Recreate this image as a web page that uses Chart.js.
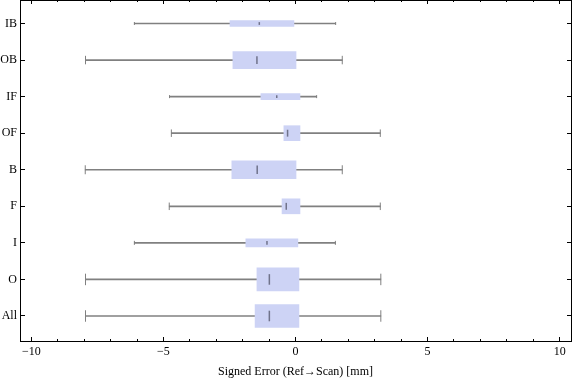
<!DOCTYPE html>
<html>
<head>
<meta charset="utf-8">
<script src="https://cdn.jsdelivr.net/npm/chart.js@4"></script>
<style>
html, body { margin: 0; padding: 0; background: #fff; }
#wrap { width: 576px; height: 381px; }
</style>
</head>
<body>
<div id="wrap"><canvas id="box1"></canvas></div>
<script>
// groups, top to bottom
var groups = ['IB', 'OB', 'IF', 'OF', 'B', 'F', 'I', 'O', 'All'];
var whiskerLow = [-6.10, -7.95, -4.77, -4.70, -7.96, -4.78, -6.10, -7.95, -7.95];
var quart1 = [-2.48, -2.37, -1.31, -0.44, -2.41, -0.51, -1.88, -1.46, -1.53];
var median = [-1.37, -1.46, -0.71, -0.30, -1.45, -0.35, -1.08, -0.99, -0.99];
var quart3 = [-0.06, 0.02, 0.17, 0.17, 0.02, 0.17, 0.09, 0.13, 0.13];
var whiskerHigh = [1.52, 1.77, 0.80, 3.21, 1.77, 3.21, 1.51, 3.23, 3.23];
var xTicks = [-10, -5, 0, 5, 10];

// box heights in px (box width in the original plot)
var boxSize = [6, 17, 6, 15, 18, 15, 8, 23, 23];

var xMin = -10.43, xMax = 10.43;
var yMin = -0.643, yMax = 8.684;

Chart.defaults.font.family = "'Liberation Serif', serif";
Chart.defaults.font.size = 12;
Chart.defaults.color = '#000';

var datasets = [];

// whiskers
datasets.push({
    type: 'bar',
    data: groups.map(function (g, i) { return { x: [whiskerLow[i], whiskerHigh[i]], y: i }; }),
    backgroundColor: '#808080',
    borderWidth: 0,
    barThickness: 1,
    grouped: false,
    order: 3
});

// boxes, one dataset each so every box gets its own height
groups.forEach(function (g, i) {
    datasets.push({
        type: 'bar',
        data: [{ x: [quart1[i], quart3[i]], y: i }],
        backgroundColor: '#cdd3f5',
        borderWidth: 0,
        barThickness: boxSize[i],
        grouped: false,
        order: 2
    });
});

// whisker caps
var capPts = [], capR = [];
groups.forEach(function (g, i) {
    capPts.push({ x: whiskerLow[i], y: i });
    capPts.push({ x: whiskerHigh[i], y: i });
    capR.push(boxSize[i] / 4, boxSize[i] / 4);
});
datasets.push({
    type: 'scatter',
    data: capPts,
    pointStyle: 'line',
    pointRotation: 90,
    pointRadius: capR,
    pointBorderColor: '#808080',
    pointBorderWidth: 1,
    order: 1
});

// medians
datasets.push({
    type: 'scatter',
    data: groups.map(function (g, i) { return { x: median[i], y: i }; }),
    pointStyle: 'line',
    pointRotation: 90,
    pointRadius: boxSize.map(function (s) { return s * 0.23; }),
    pointBorderColor: 'rgba(95,98,120,0.85)',
    pointBorderWidth: 1.5,
    order: 0
});

// fixed axis sizes, and no extra label padding around the plot frame
function flat(h) { return function (s) { s.height = h; s.paddingLeft = 0; s.paddingRight = 0; }; }
function thin(w) { return function (s) { s.width = w; s.paddingTop = 0; s.paddingBottom = 0; }; }

var box1 = new Chart(document.getElementById('box1'), {
    type: 'bar',
    data: { datasets: datasets },
    options: {
        indexAxis: 'y',
        responsive: true,
        maintainAspectRatio: false,
        animation: false,
        events: [],
        layout: { autoPadding: false, padding: { top: 0, right: 5, bottom: 0, left: 0 } },
        plugins: { legend: { display: false }, tooltip: { enabled: false } },
        scales: {
            x: {
                type: 'linear', position: 'bottom', min: xMin, max: xMax, weight: 1,
                afterBuildTicks: function (s) { s.ticks = xTicks.map(function (v) { return { value: v }; }); },
                ticks: {
                    padding: 8,
                    callback: function (v) { return v < 0 ? '\u2212' + Math.abs(v) : '' + v; }
                },
                grid: { drawOnChartArea: false, tickLength: -4, tickColor: '#000' },
                border: { color: '#000' },
                title: { display: true, text: 'Signed Error (Ref\u2192Scan) [mm]', padding: { top: 0, bottom: 2 } },
                afterFit: flat(40)
            },
            xm: {
                type: 'linear', position: 'bottom', min: xMin, max: xMax, weight: 0,
                ticks: { display: false, stepSize: 1, includeBounds: false },
                grid: { drawOnChartArea: false, tickLength: -2, tickColor: '#000' },
                border: { display: false },
                afterFit: flat(0)
            },
            xt: {
                type: 'linear', position: 'top', min: xMin, max: xMax, weight: 0,
                afterBuildTicks: function (s) { s.ticks = xTicks.map(function (v) { return { value: v }; }); },
                ticks: { display: false },
                grid: { drawOnChartArea: false, tickLength: -4, tickColor: '#000' },
                border: { color: '#000' },
                afterFit: flat(0)
            },
            xtm: {
                type: 'linear', position: 'top', min: xMin, max: xMax, weight: 1,
                ticks: { display: false, stepSize: 1, includeBounds: false },
                grid: { drawOnChartArea: false, tickLength: -2, tickColor: '#000' },
                border: { display: false },
                afterFit: flat(0)
            },
            y: {
                type: 'linear', position: 'left', reverse: true, min: yMin, max: yMax, offset: false,
                ticks: {
                    stepSize: 1, includeBounds: false, padding: 8,
                    callback: function (v) { return groups[Math.round(v)]; }
                },
                grid: { offset: false, drawOnChartArea: false, tickLength: -5, tickColor: '#000' },
                border: { color: '#000' },
                afterFit: thin(20)
            },
            yr: {
                type: 'linear', position: 'right', reverse: true, min: yMin, max: yMax, offset: false,
                ticks: { display: false, stepSize: 1, includeBounds: false },
                grid: { offset: false, drawOnChartArea: false, tickLength: -4, tickColor: '#000' },
                border: { color: '#000' },
                afterFit: thin(0)
            }
        }
    }
});
</script>
</body>
</html>
